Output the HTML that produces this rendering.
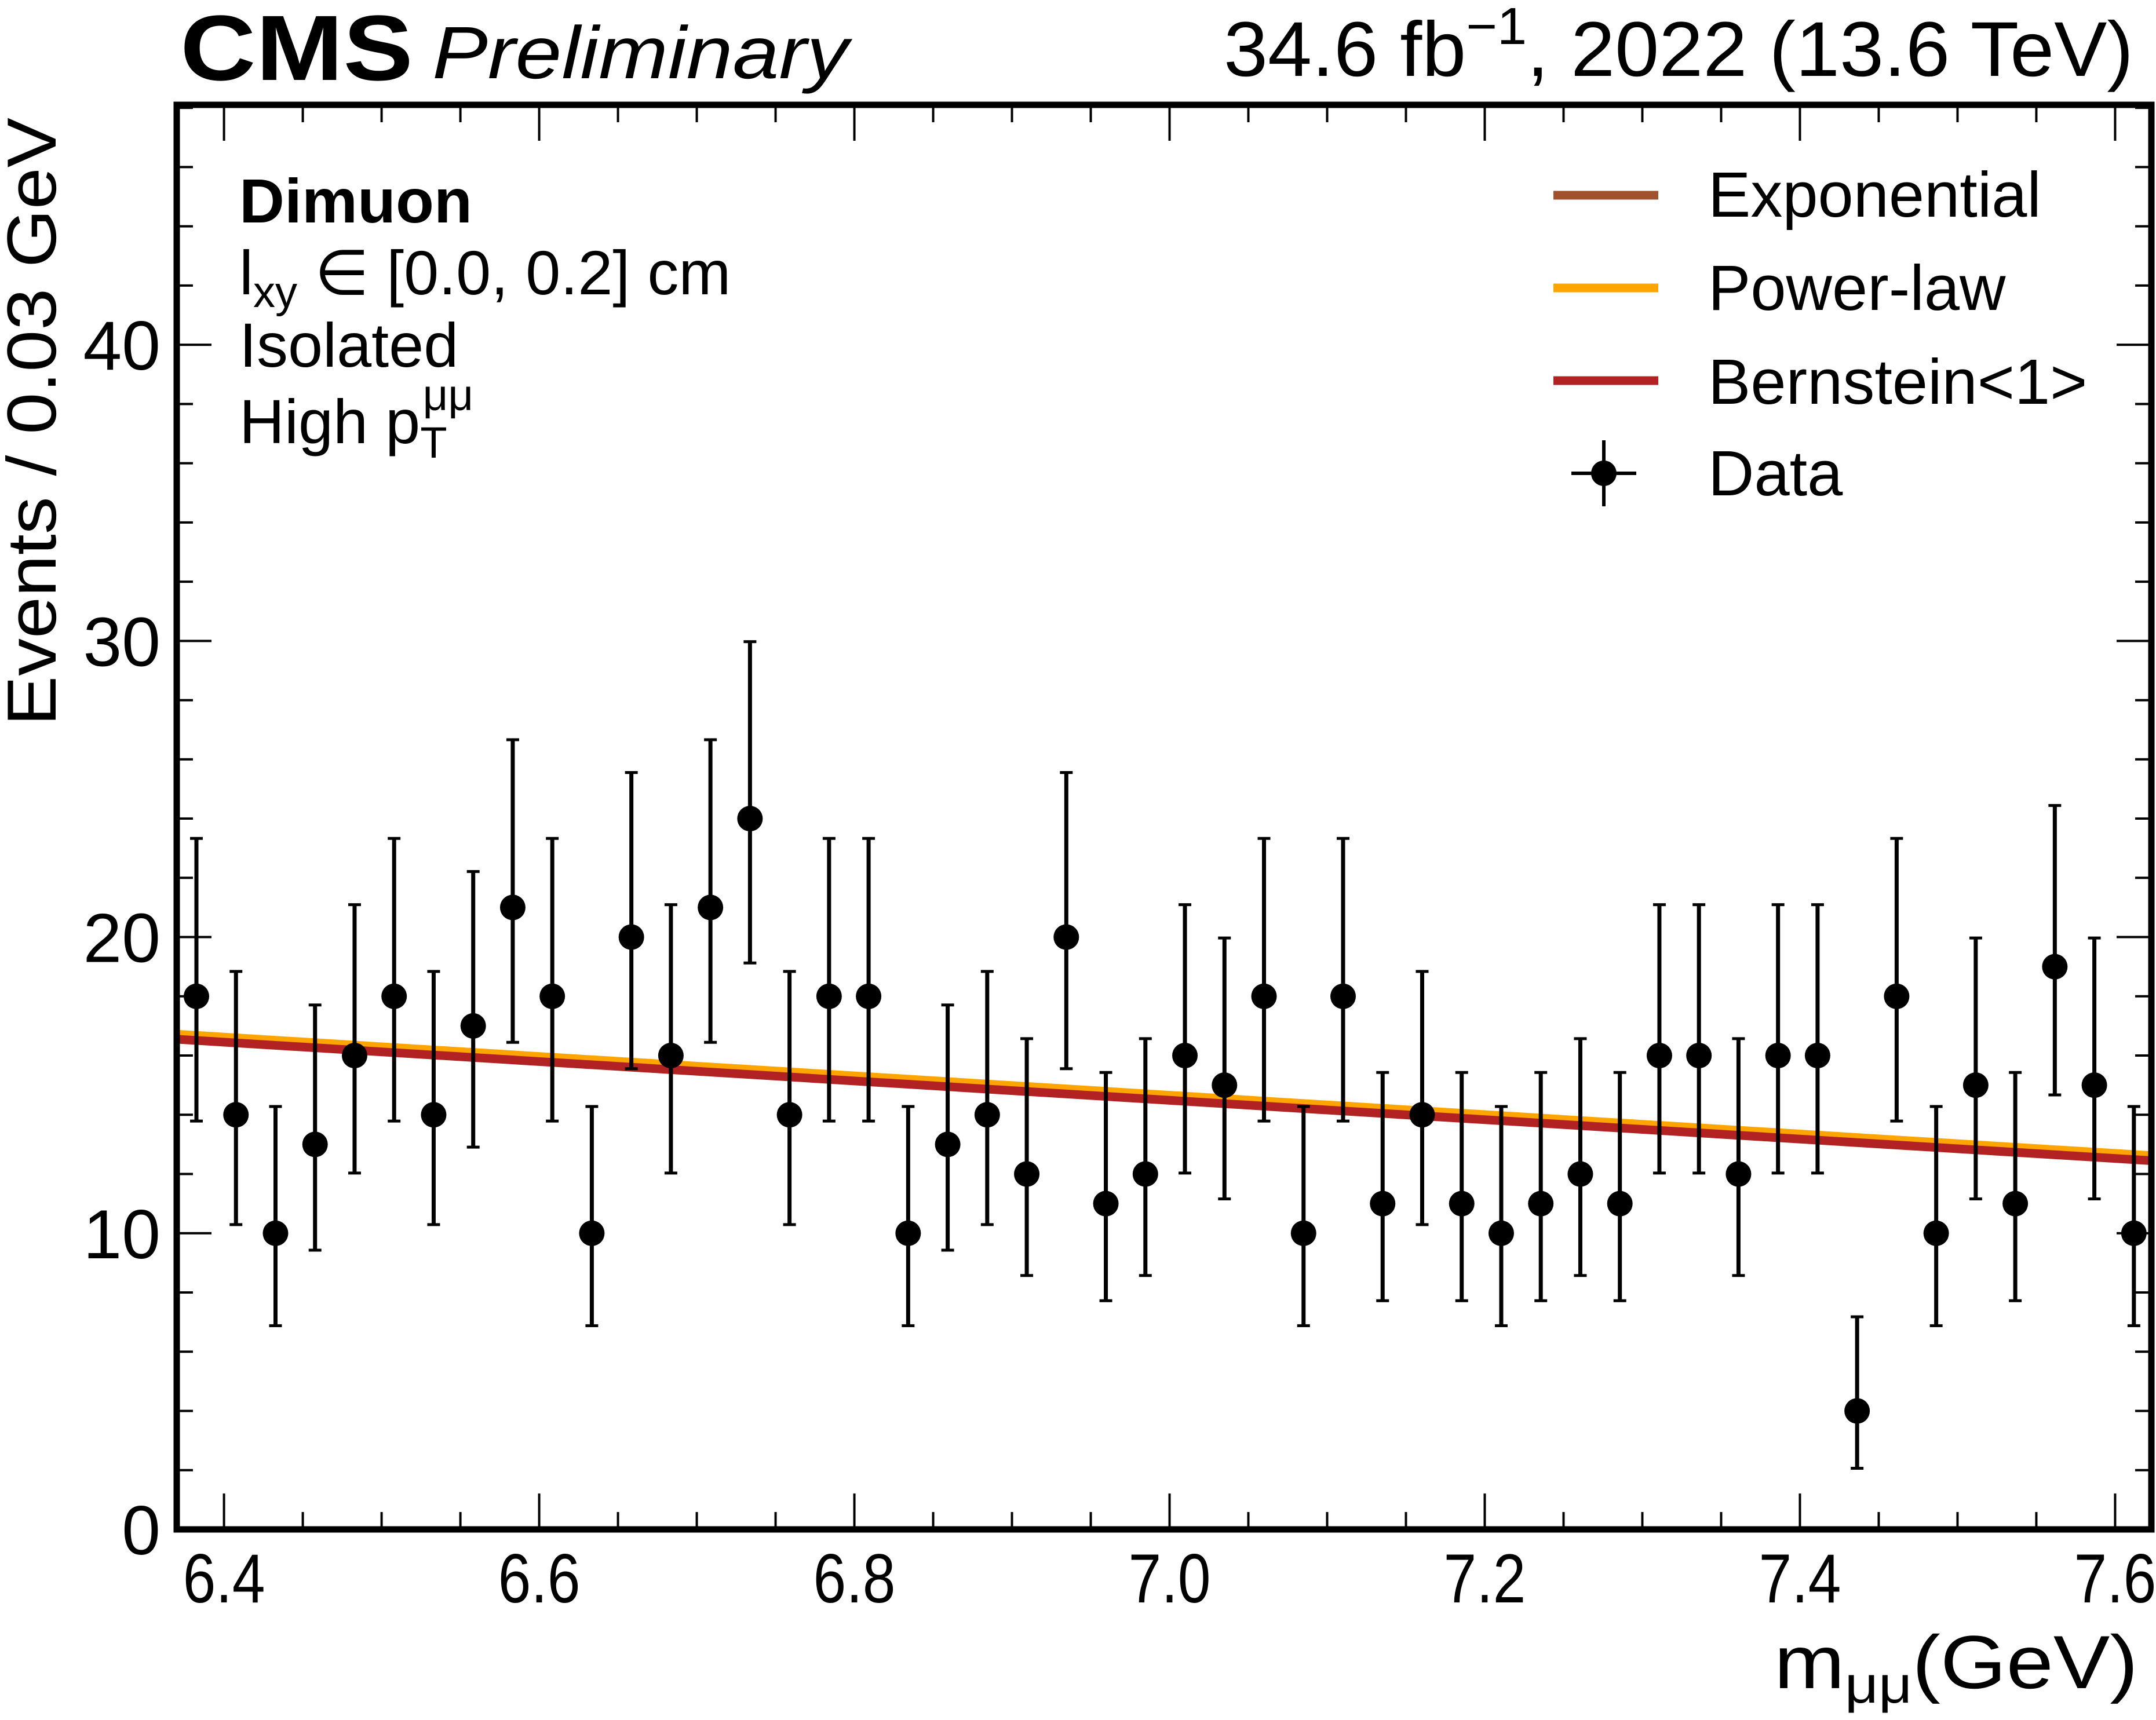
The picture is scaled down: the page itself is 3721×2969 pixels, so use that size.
<!DOCTYPE html>
<html><head><meta charset="utf-8"><style>
html,body{margin:0;padding:0;background:#fff;}
svg{display:block;font-family:"Liberation Sans",Arial,sans-serif;}
</style></head><body>
<svg id="chart" width="3721" height="2969" viewBox="0 0 3721 2969" xmlns="http://www.w3.org/2000/svg">
<rect x="0" y="0" width="3721" height="2969" fill="#fff"/>
<g id="fits"></g>
<g id="data"></g>
<g id="axes"></g>
<rect x="305" y="181" width="3408" height="2459" fill="none" stroke="#000" stroke-width="11"/>
<text x="311" y="138" font-size="160" font-weight="bold" textLength="402" lengthAdjust="spacingAndGlyphs">CMS</text>
<text x="746" y="135" font-size="128" font-style="italic" textLength="718" lengthAdjust="spacingAndGlyphs">Preliminary</text>
<text x="2112" y="131" font-size="134" textLength="1570" lengthAdjust="spacingAndGlyphs">34.6 fb<tspan font-size="90" dy="-55">−1</tspan><tspan dy="55">, 2022 (13.6 TeV)</tspan></text>
<text x="413" y="384" font-size="108" font-weight="bold">Dimuon</text>
<text x="413" y="508" font-size="108">l<tspan font-size="76" dy="22">xy</tspan><tspan dy="-22"> ∈ [0.0, 0.2] cm</tspan></text>
<text x="413" y="633" font-size="108">Isolated</text>
<text x="413" y="765" font-size="108">High p<tspan font-size="76" dy="25">T</tspan><tspan font-size="76" dx="-42" dy="-82">μμ</tspan></text>
<text transform="translate(96,1253) rotate(-90)" font-size="120" textLength="1050" lengthAdjust="spacingAndGlyphs">Events / 0.03 GeV</text>
<text x="3062" y="2914" font-size="130" textLength="628" lengthAdjust="spacingAndGlyphs">m<tspan font-size="90" dy="25">μμ</tspan><tspan dy="-25">(GeV)</tspan></text>
<g>
<line x1="2681" y1="337" x2="2862" y2="337" stroke="#a0522d" stroke-width="15"/>
<text x="2948" y="374" font-size="110">Exponential</text>
<line x1="2681" y1="497" x2="2862" y2="497" stroke="#ffa500" stroke-width="15"/>
<text x="2948" y="535" font-size="110">Power-law</text>
<line x1="2681" y1="657" x2="2862" y2="657" stroke="#b22222" stroke-width="15"/>
<text x="2948" y="697" font-size="110">Bernstein&lt;1&gt;</text>
<line x1="2712" y1="817" x2="2824" y2="817" stroke="#000" stroke-width="6"/>
<line x1="2768" y1="760" x2="2768" y2="874" stroke="#000" stroke-width="6"/>
<circle cx="2768" cy="817" r="22" fill="#000"/>
<text x="2948" y="855" font-size="110">Data</text>
</g>
</svg>
<script>
const counts = [18,14,10,13,16,18,14,17,21,18,10,20,16,21,24,14,18,18,10,13,14,12,20,11,12,16,15,18,10,18,11,14,11,10,11,12,11,16,16,12,16,16,4,18,10,15,11,19,15,10];
const binStart = 6.3825;
const binWidth = 0.02509;
const bernsteinEnds = [16.55, 12.45];
const powerlawEnds = [16.75, 12.65];
const exponentialEnds = [16.6, 12.5];
const xTicks = [6.4, 6.6, 6.8, 7.0, 7.2, 7.4, 7.6];
const xTickLabels = ["6.4","6.6","6.8","7.0","7.2","7.4","7.6"];
const yTicks = [0, 10, 20, 30, 40];
const yTickLabels = ["0","10","20","30","40"];
const X0 = 6.37, X1 = 7.623, Y0 = 0, Y1 = 48.1;
const PL = 305, PR = 3713, PT = 181, PB = 2640;
function sx(v){ return PL + (v - X0) / (X1 - X0) * (PR - PL); }
function sy(v){ return PB - (v - Y0) / (Y1 - Y0) * (PB - PT); }
const NS = "http://www.w3.org/2000/svg";
function mk(tag, attrs, parent){ const e = document.createElementNS(NS, tag); for (const k in attrs) e.setAttribute(k, attrs[k]); parent.appendChild(e); return e; }
const axes = document.getElementById('axes');
for (let v = 6.4; v < X1; v += 0.05) {
  const major = Math.abs(Math.round(v / 0.2) * 0.2 - v) < 1e-6;
  const L = major ? 62 : 30;
  const x = sx(v);
  const t1 = mk('line', {x1:x, y1:PB, x2:x, y2:PB - L, stroke:'#000', 'stroke-width':4}, axes);
  
  
  const t2 = mk('line', {x1:x, y1:PT, x2:x, y2:PT + L, stroke:'#000', 'stroke-width':4}, axes);
  
  
}
for (let v = 0; v <= Y1; v += 2) {
  const major = v % 10 === 0;
  const L = major ? 60 : 28;
  const y = sy(v);
  const t1 = mk('line', {x1:PL, y1:y, x2:PL + L, y2:y, stroke:'#000', 'stroke-width':4}, axes);
  
  
  const t2 = mk('line', {x1:PR, y1:y, x2:PR - L, y2:y, stroke:'#000', 'stroke-width':4}, axes);
  
  
}
xTicks.forEach((v, i) => {
  const t = mk('text', {x:sx(v), y:2766, 'font-size':120, 'text-anchor':'middle', textLength:142, lengthAdjust:'spacingAndGlyphs'}, axes);
  
  
  t.textContent = xTickLabels[i];
});
yTicks.forEach((v, i) => {
  const t = mk('text', {x:277, y:sy(v) + 43, 'font-size':120, 'text-anchor':'end'}, axes);
  
  
  t.textContent = yTickLabels[i];
});
const fits = document.getElementById('fits');
const e1 = mk('line', {x1:sx(X0), y1:sy(exponentialEnds[0]), x2:sx(X1), y2:sy(exponentialEnds[1]), stroke:'#a0522d', 'stroke-width':12}, fits);


const p1 = mk('line', {x1:sx(X0), y1:sy(powerlawEnds[0]), x2:sx(X1), y2:sy(powerlawEnds[1]), stroke:'#ffa500', 'stroke-width':12}, fits);


const b1 = mk('line', {x1:sx(X0), y1:sy(bernsteinEnds[0]), x2:sx(X1), y2:sy(bernsteinEnds[1]), stroke:'#b22222', 'stroke-width':15}, fits);


const dg = document.getElementById('data');
counts.forEach((n, i) => {
  const x = sx(binStart + i * binWidth);
  const up = n + Math.sqrt(n + 0.75) + 1;
  const lo = Math.max(0, n - Math.sqrt(Math.max(n - 0.25, 0)));
  const g = mk('g', {}, dg);
  
  
  mk('line', {x1:x, y1:sy(up), x2:x, y2:sy(lo), stroke:'#000', 'stroke-width':7}, g);
  mk('line', {x1:x - 11, y1:sy(up), x2:x + 11, y2:sy(up), stroke:'#000', 'stroke-width':5}, g);
  mk('line', {x1:x - 11, y1:sy(lo), x2:x + 11, y2:sy(lo), stroke:'#000', 'stroke-width':5}, g);
  mk('circle', {cx:x, cy:sy(n), r:22, fill:'#000'}, g);
});
</script>
</body></html>
